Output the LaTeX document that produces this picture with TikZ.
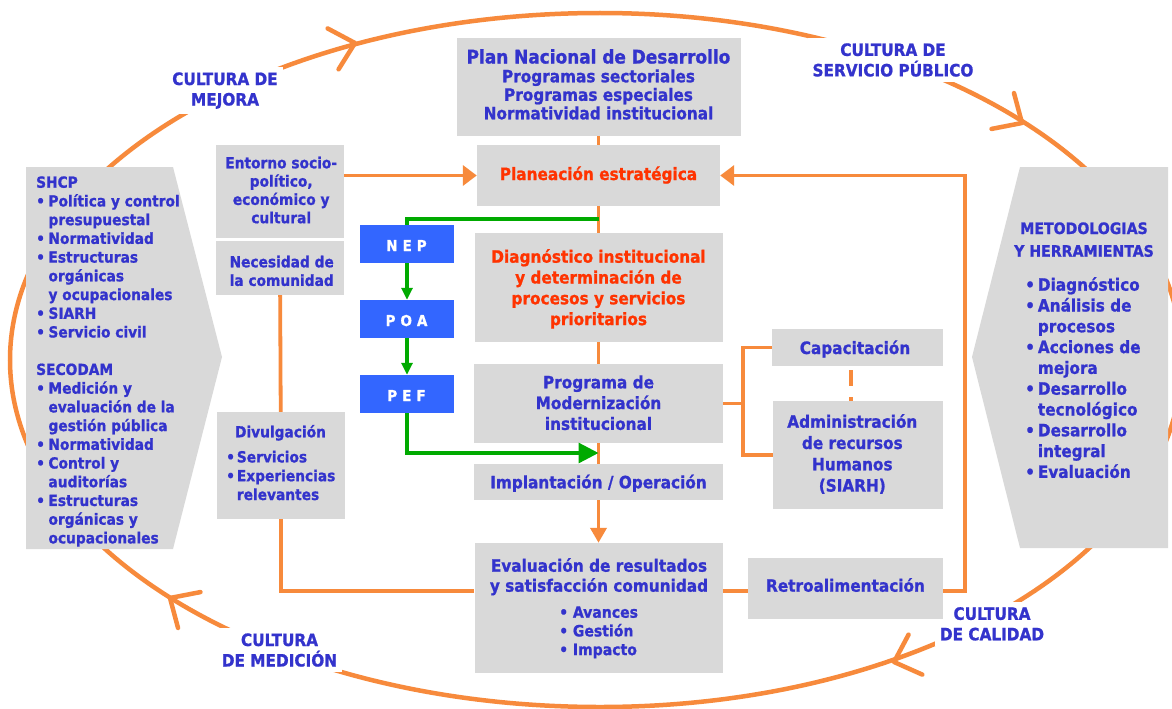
\documentclass[tikz,border=0pt]{standalone}
\usepackage{fontspec}
\setmainfont{DejaVu Sans Condensed}[BoldFeatures={FakeBold=1}]
\usetikzlibrary{arrows.meta,calc}

\definecolor{orng}{RGB}{247,138,60}
\definecolor{boxgray}{RGB}{217,217,217}
\definecolor{txtblue}{RGB}{51,51,204}
\definecolor{txtred}{RGB}{255,51,0}
\definecolor{tagblue}{RGB}{51,102,255}
\definecolor{grn}{RGB}{0,170,0}

% bullet set in a box of the given width, and the matching hanging indent
\newcommand\itm[1]{\makebox[#1][l]{•}}
\newcommand\hng[1]{\hspace*{#1}}
% widely spaced capitals for the budget tags
\newcommand\spaced[1]{{\spaceskip=5pt\relax #1}}

\begin{document}
% multi-line texts are placed by the baseline of their last line
\begin{tikzpicture}[x=1pt,y=-1pt,
  loopline/.style={draw=orng, line width=4.5pt},
  chev/.style={draw=orng, line width=4.5pt, line cap=round, line join=round},
  oline/.style={draw=orng, line width=3.8pt},
  gline/.style={draw=grn, line width=3.3pt},
  box/.style 2 args={fill=boxgray, inner sep=0pt, minimum width=#1, minimum height=#2},
  tag/.style={fill=tagblue, inner sep=0pt, minimum width=94pt, minimum height=38pt},
  txt/.style={text=txtblue, inner sep=0pt, align=center, anchor=base,
              font=\bfseries\fontsize{17}{20.8}\selectfont},
  txts/.style={txt, font=\bfseries\fontsize{15.3}{18.6}\selectfont},
  txtl/.style={txt, align=left, anchor=base west},
  txtsl/.style={txts, align=left, anchor=base west},
  lab/.style={txt, fill=white, inner sep=5pt, font=\bfseries\fontsize{17}{20.5}\selectfont},
  tagtxt/.style={text=white, inner sep=0pt, anchor=base,
                 font=\bfseries\fontsize{15}{17}\selectfont},
]
\fill[white] (0,0) rectangle (1172,709);
\useasboundingbox (0,0) rectangle (1172,709);

% ---- the outer cycle ----
\coordinate (top) at (600,13);
\draw[loopline] (top)
  arc[start angle=90, end angle=-90, x radius=582pt, y radius=347pt]
  arc[start angle=-90, end angle=-270, x radius=590pt, y radius=347pt];

% open arrowheads along the cycle (clockwise)
\coordinate (tipA) at (355,43);
\coordinate (tipB) at (1022,123);
\coordinate (tipC) at (894,662);
\coordinate (tipD) at (170,598);
\draw[chev] (tipA) ++(122:31) -- (tipA) -- ++(208:31);
\draw[chev] (tipB) ++(169:31) -- (tipB) -- ++(255:31);
\draw[chev] (tipC) ++(298:31) -- (tipC) -- ++(24:31);
\draw[chev] (tipD) ++(-11:31) -- (tipD) -- ++(75:31);

% culture labels on the cycle
\node[lab] (cmej) at (225,105.5) {CULTURA DE\\MEJORA};
\node[lab] (cserv) at (893,76.4) {CULTURA DE\\SERVICIO PÚBLICO};
\node[lab] (cmed) at (279.5,666.5) {CULTURA\\DE MEDICIÓN};
\node[lab] (ccal) at (992,640.3) {CULTURA\\DE CALIDAD};

% ---- side panels ----
\fill[boxgray] (26,167) -- (173,167) -- (222,357) -- (173,549) -- (26,549) -- cycle;
\fill[boxgray] (1020,167) -- (1168,167) -- (1168,548) -- (1020,548) -- (972,357) -- cycle;

\node[txtsl, font=\bfseries\fontsize{15.3}{18.72}\selectfont] (shcp) at (36,543.4)
 {SHCP\\
  \itm{12.3pt}Política y control\\
  \hng{12.3pt}presupuestal\\
  \itm{12.3pt}Normatividad\\
  \itm{12.3pt}Estructuras\\
  \hng{12.3pt}orgánicas\\
  \hng{12.3pt}y ocupacionales\\
  \itm{12.3pt}SIARH\\
  \itm{12.3pt}Servicio civil\\[18.72pt]
  SECODAM\\
  \itm{12.3pt}Medición y\\
  \hng{12.3pt}evaluación de la\\
  \hng{12.3pt}gestión pública\\
  \itm{12.3pt}Normatividad\\
  \itm{12.3pt}Control y\\
  \hng{12.3pt}auditorías\\
  \itm{12.3pt}Estructuras\\
  \hng{12.3pt}orgánicas y\\
  \hng{12.3pt}ocupacionales};

\node[txt, font=\bfseries\fontsize{15.7}{22.7}\selectfont] (metT) at (1084,256.7)
 {METODOLOGIAS\\Y HERRAMIENTAS};
\node[txtl] (metL) at (1025,477.9)
 {\itm{12.7pt}Diagnóstico\\
  \itm{12.7pt}Análisis de\\
  \hng{12.7pt}procesos\\
  \itm{12.7pt}Acciones de\\
  \hng{12.7pt}mejora\\
  \itm{12.7pt}Desarrollo\\
  \hng{12.7pt}tecnológico\\
  \itm{12.7pt}Desarrollo\\
  \hng{12.7pt}integral\\
  \itm{12.7pt}Evaluación};

% ---- boxes ----
\node[box={284pt}{98pt}] (pnd) at (598.5,87) {};
\node[box={243pt}{61pt}] (plan) at (598.5,175.5) {};
\node[box={248pt}{109pt}] (diag) at (598.5,287.5) {};
\node[box={249pt}{79pt}] (prog) at (598.5,403.5) {};
\node[box={249pt}{36pt}] (impl) at (598.5,482) {};
\node[box={248pt}{130pt}] (eval) at (598.5,608) {};
\node[box={195pt}{61pt}] (retro) at (845.5,588.5) {};
\node[box={171pt}{37pt}] (cap) at (857.5,347.5) {};
\node[box={170pt}{108pt}] (adm) at (858,455) {};
\node[box={128pt}{93pt}] (ent) at (280,191.5) {};
\node[box={128pt}{54pt}] (nec) at (280,268) {};
\node[box={128pt}{107pt}] (div) at (281,465.5) {};
\node[tag] (nep) at (407,244) {};
\node[tag] (poa) at (407,319) {};
\node[tag] (pef) at (407,394) {};

% ---- box texts ----
\node[txt, font=\bfseries\fontsize{18.8}{20}\selectfont] (pndA) at (598.5,63.5) {Plan Nacional de Desarrollo};
\node[txt, font=\bfseries\fontsize{17}{18.5}\selectfont] (pndB) at (598.5,119.3)
 {Programas sectoriales\\Programas especiales\\Normatividad institucional};
\node[txt, text=txtred] (planT) at (598.5,180) {Planeación estratégica};
\node[txt, text=txtred] (diagT) at (598.5,325.1)
 {Diagnóstico institucional\\y determinación de\\procesos y servicios\\prioritarios};
\node[txt] (progT) at (598.5,429.9) {Programa de\\Modernización\\institucional};
\node[txt] (implT) at (598.5,488.3) {Implantación / Operación};
\node[txt, font=\bfseries\fontsize{17}{20}\selectfont] (evalT) at (599,591.7)
 {Evaluación de resultados\\y satisfacción comunidad};
\node[txtl, font=\bfseries\fontsize{15.6}{18.7}\selectfont] (evalL) at (559,655.1)
 {\itm{13.7pt}Avances\\\itm{13.7pt}Gestión\\\itm{13.7pt}Impacto};
\node[txt] (retroT) at (845.5,591.7) {Retroalimentación};
\node[txt] (capT) at (855,354) {Capacitación};
\node[txt, font=\bfseries\fontsize{17}{21.3}\selectfont] (admT) at (852.3,491.6)
 {Administración\\de recursos\\Humanos\\(SIARH)};
\node[txts, font=\bfseries\fontsize{15.3}{18.3}\selectfont] (entT) at (281.2,223.2)
 {Entorno socio-\\político,\\económico y\\cultural};
\node[txts] (necT) at (281.7,285.9) {Necesidad de\\la comunidad};
\node[txts] (divT) at (280.5,437.3) {Divulgación};
\node[txtsl, font=\bfseries\fontsize{15.3}{18.8}\selectfont] (divL) at (226,500)
 {\itm{10.7pt}Servicios\\\itm{10.7pt}Experiencias\\\hng{10.7pt}relevantes};
\node[tagtxt] (nepT) at (406.5,251) {\spaced{N E P}};
\node[tagtxt] (poaT) at (406.5,326) {\spaced{P O A}};
\node[tagtxt] (pefT) at (406.5,401) {\spaced{P E F}};

% ---- orange connectors ----
\coordinate (fbk) at (965,591);
\coordinate (bx) at (743,403.5);
\coordinate (dx) at (851,0);
\draw[oline] (pnd) -- (plan);
\draw[oline] (plan) -- (diag);
\draw[oline] (diag) -- (prog);
\draw[oline] (prog) -- (impl);
\draw[oline, -{Triangle[length=15pt,width=16pt]}] (impl) -- (eval);
\draw[oline, -{Triangle[length=14pt,width=20pt]}] (ent.east |- plan.west) -- (plan.west);
\draw[oline, -{Triangle[length=14pt,width=20pt]}] (retro.east |- fbk) -- (fbk) -- (fbk |- plan.east) -- (plan.east);
\draw[oline] (eval.east |- fbk) -- (retro.west |- fbk);
\draw[oline] (nec) -- (div);
\draw[oline] (div.south) |- (eval.west |- fbk);
\draw[oline] (prog.east) -- (bx);
\draw[oline] (cap.west) -| (bx) |- (adm.west);
\draw[oline, dash pattern=on 16pt off 11pt, dash phase=23pt] (cap.south -| dx) -- (adm.north -| dx);

% ---- green planning chain ----
\coordinate (gsplit) at (598.5,219);
\coordinate (gin) at (598.5,453);
\draw[gline] (gsplit) -| (nep.north);
\draw[gline, -{Triangle[length=12pt,width=11pt]}] (nep) -- (poa);
\draw[gline, -{Triangle[length=12pt,width=11pt]}] (poa) -- (pef);
\draw[gline, -{Triangle[length=20pt,width=20pt]}] (pef.south) |- (gin);
\end{tikzpicture}
\end{document}
